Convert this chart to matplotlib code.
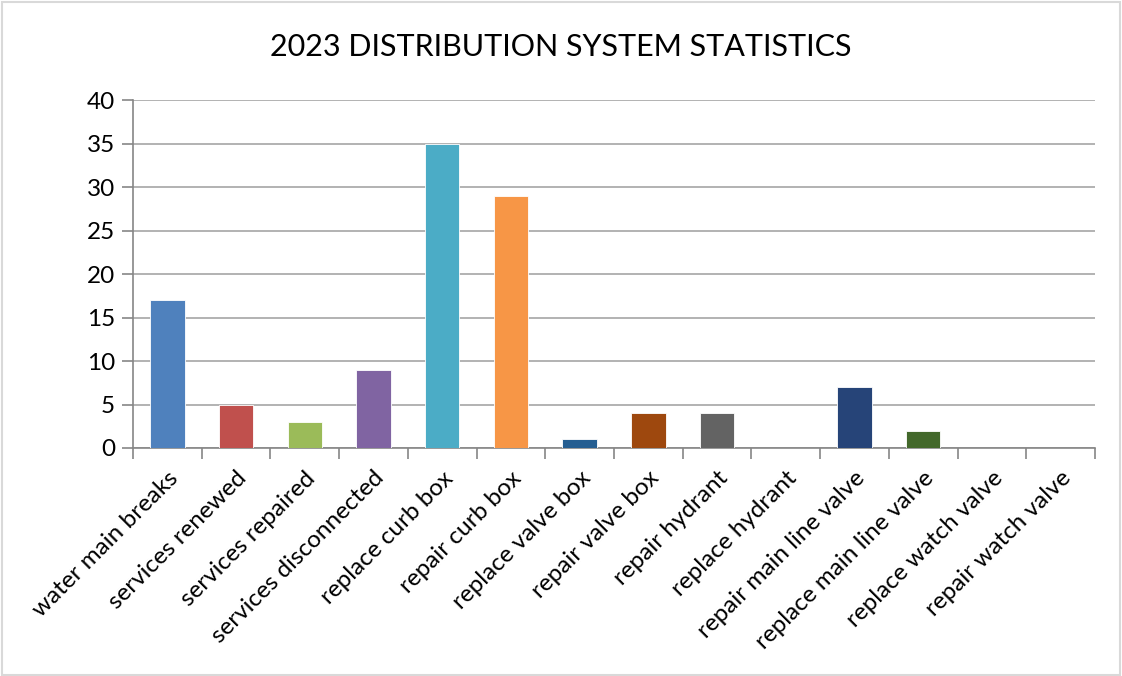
import matplotlib.pyplot as plt
from matplotlib.patches import Rectangle
import numpy as np

categories = ['water main breaks', 'services renewed', 'services repaired',
              'services disconnected', 'replace curb box', 'repair curb box',
              'replace valve box', 'repair valve box', 'repair hydrant',
              'replace hydrant', 'repair main line valve',
              'replace main line valve', 'replace watch valve',
              'repair watch valve']
counts = [17, 5, 3, 9, 35, 29, 1, 4, 4, 0, 7, 2, 0, 0]
bar_colors = ['#4F81BD', '#C0504D', '#9BBB59', '#8064A2', '#4BACC6', '#F79646',
              '#255E91', '#9E480E', '#636363', '#997300', '#264478', '#43682B',
              '#5B9BD5', '#ED7D31']

plt.rcParams['font.family'] = ['Lato', 'DejaVu Sans']

fig = plt.figure(figsize=(11.22, 6.76), dpi=100)
ax = fig.add_axes([133 / 1122, 1 - 448 / 676, (1095 - 133) / 1122, (448 - 100) / 676])

x = np.arange(len(categories))
ax.bar(x, counts, width=0.5, color=bar_colors, edgecolor='white', linewidth=0.6, zorder=3)

ax.set_xlim(-0.5, len(categories) - 0.5)
ax.set_ylim(0, 40)
ax.set_yticks(range(0, 41, 5))
ax.yaxis.grid(True, color='#A6A6A6', linewidth=1.2, zorder=0)

# category labels between tick boundaries
ax.set_xticks(x)
ax.set_xticklabels(categories, rotation=45, ha='right', rotation_mode='anchor', fontsize=17.5)
ax.tick_params(axis='x', length=0, pad=14)
ax.set_xticks(np.arange(-0.5, len(categories), 1), minor=True)
ax.tick_params(axis='x', which='minor', length=8, color='#868686', width=1.2)
ax.tick_params(axis='y', length=8, color='#868686', width=1.2, labelsize=17.5, pad=5)

for side in ['top', 'right']:
    ax.spines[side].set_visible(False)
for side in ['left', 'bottom']:
    ax.spines[side].set_color('#868686')
    ax.spines[side].set_linewidth(1.2)

fig.text(0.5, 1 - 47 / 676, '2023 DISTRIBUTION SYSTEM STATISTICS',
         ha='center', va='center', fontsize=22)

fig.add_artist(Rectangle((0.002, 0.002), 0.996, 0.995, transform=fig.transFigure,
                         fill=False, edgecolor='#D9D9D9', linewidth=1.5))

fig.savefig('out.png', dpi=100)
